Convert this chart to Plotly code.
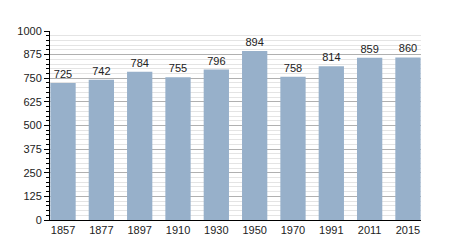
import plotly.graph_objects as go

years = ["1857", "1877", "1897", "1910", "1930", "1950", "1970", "1991", "2011", "2015"]
population = [725, 742, 784, 755, 796, 894, 758, 814, 859, 860]
y_ticks = [0, 125, 250, 375, 500, 625, 750, 875, 1000]

fig = go.Figure(go.Bar(
    x=years, y=population,
    marker=dict(color="#97b0ca", line=dict(width=0)),
    text=[str(v) for v in population], textposition="outside",
    textfont=dict(family="Liberation Sans, Arial, sans-serif", size=11, color="#222"),
    cliponaxis=False, width=0.66,
))

fig.update_layout(
    width=450, height=250,
    margin=dict(l=50, r=29, t=31, b=30),
    paper_bgcolor="white", plot_bgcolor="white",
    font=dict(family="Liberation Sans, Arial, sans-serif", size=11, color="#222"),
    showlegend=False,
)
fig.update_xaxes(
    type="category", range=[-0.34, 9.34], showline=True, linecolor="black", linewidth=1,
    ticks="", showgrid=False, tickfont=dict(size=11),
)
fig.update_yaxes(
    range=[0, 1000], tickvals=y_ticks, showline=True, linecolor="black", linewidth=1,
    ticks="outside", ticklen=5, tickcolor="black",
    showgrid=True, gridcolor="#b0b0b0", gridwidth=1, zeroline=False,
    minor=dict(dtick=25, tick0=0, showgrid=True, gridcolor="#e4e4e4", ticks="outside",
               ticklen=3, tickcolor="black"),
    tickfont=dict(size=11),
)

fig.write_html("out.html")
